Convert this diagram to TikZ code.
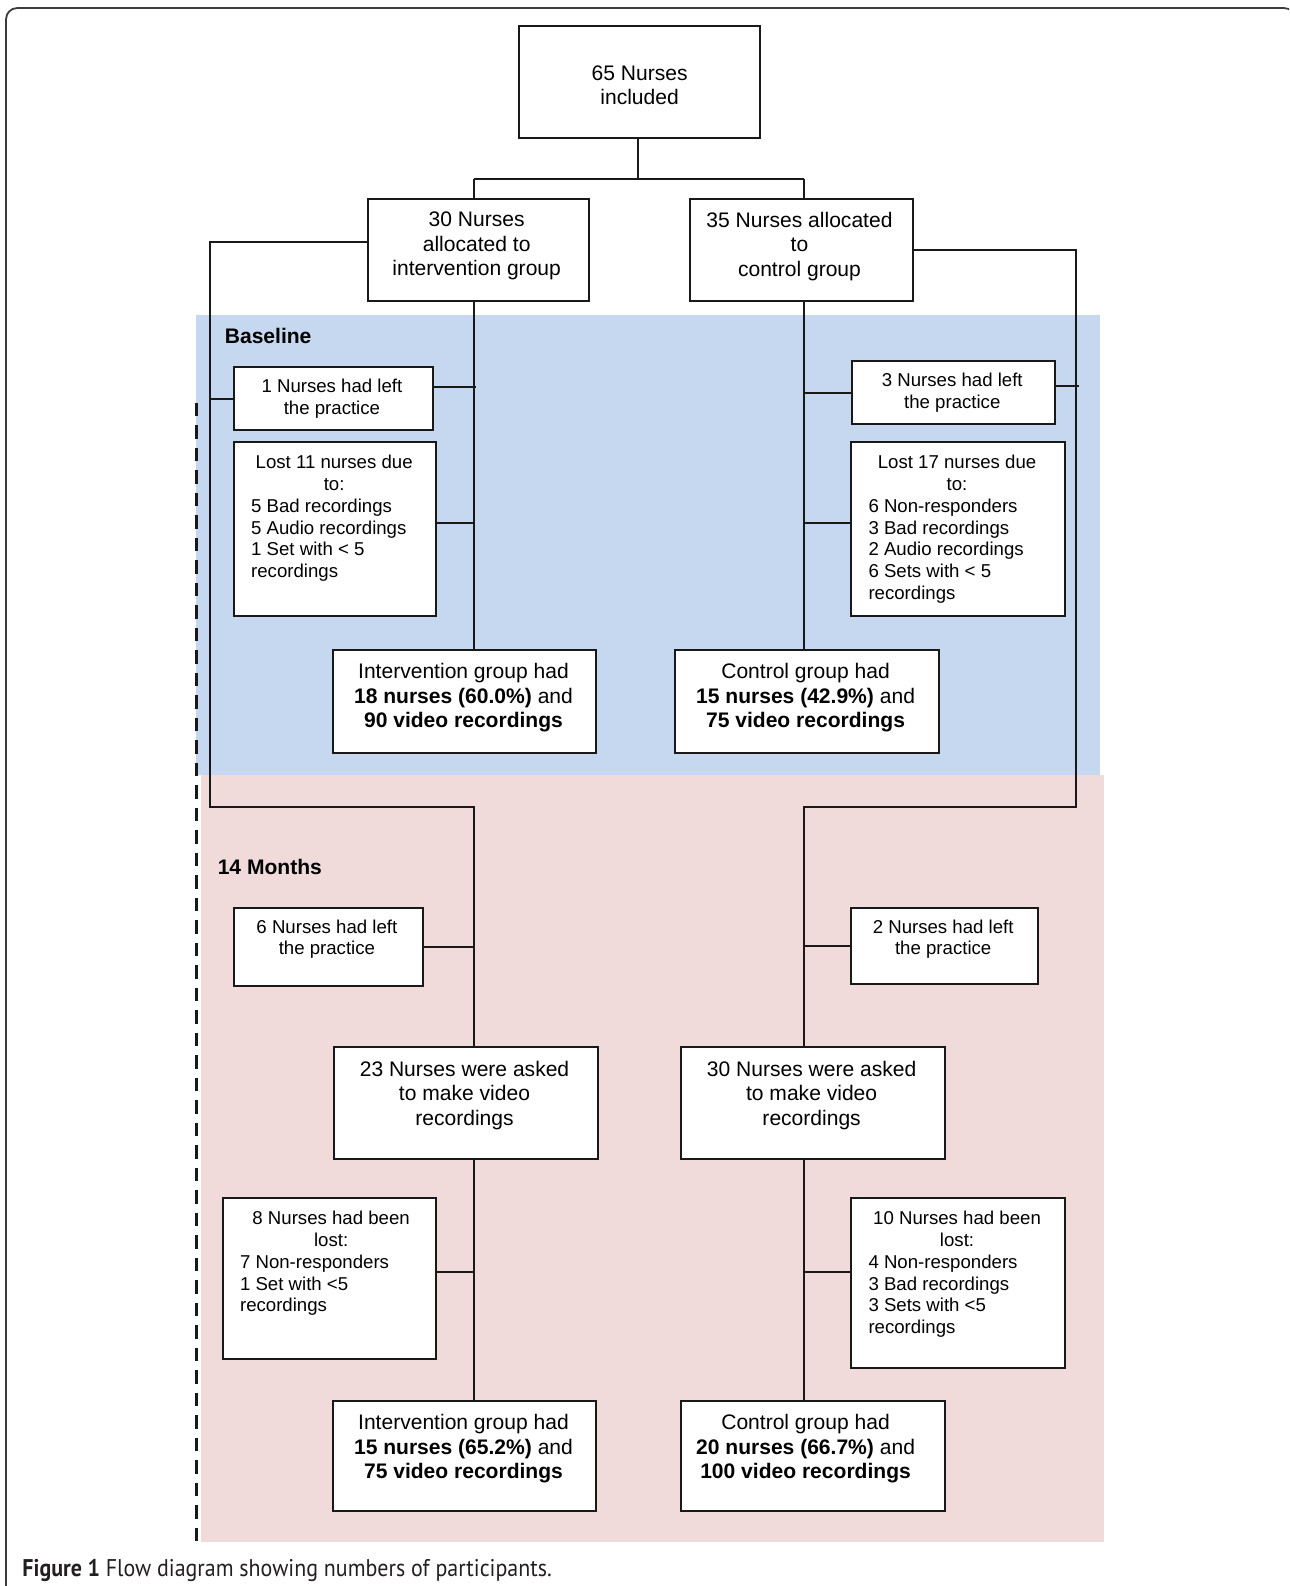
\documentclass[tikz,border=0pt]{standalone}
\usepackage{fontspec}
\setmainfont{Liberation Sans}
\newfontfamily\capfont{PT Sans}
\usepackage{graphicx}
\definecolor{bluebg}{RGB}{197,216,240}
\definecolor{pinkbg}{RGB}{241,218,218}
\definecolor{lineblack}{RGB}{25,25,25}
\definecolor{framecol}{RGB}{60,60,60}
\begin{document}
\begin{tikzpicture}[x=1pt,y=-1pt,scale=1.012,every node/.append style={transform shape},
  box/.style={draw=lineblack, line width=2pt, fill=white, rectangle, inner sep=0pt, anchor=north west},
  conn/.style={draw=lineblack, line width=2pt},
  big/.style={font=\fontsize{20.8}{24}\selectfont, align=center, inner sep=0pt, anchor=north, text=black},
  small/.style={font=\fontsize{18.4}{21.6}\selectfont, align=center, inner sep=0pt, anchor=north, text=black},
  smallleft/.style={font=\fontsize{18.4}{21.6}\selectfont, align=left, inner sep=0pt, anchor=north west, text=black},
  phase/.style={font=\fontsize{20.8}{24}\selectfont\bfseries, inner sep=0pt, anchor=north west, text=black},
]
\useasboundingbox (0,0) rectangle (1273.72,1567.19);
\clip (0,0) rectangle (1273.72,1567.19);
% frame
\draw[line width=1.8pt, framecol, rounded corners=11pt] (6,8) rectangle (1280,1660);
% phase backgrounds
\fill[bluebg] (194,311) rectangle (1087,766);
\fill[pinkbg] (199,766) rectangle (1091,1524);
% dashed line
\coordinate (d1) at (194,398);
\coordinate (d2) at (194,1528);
\draw[line width=3.6pt, lineblack, dash pattern=on 13.5pt off 9pt] (d1) -- (d2);
% boxes
\node[box, minimum width=238, minimum height=110] (A) at (512,25) {};
\node[box, minimum width=218, minimum height=100] (B) at (363,196) {};
\node[box, minimum width=220, minimum height=100] (C) at (681,196) {};
\node[box, minimum width=197, minimum height=62] (n1) at (230,362) {};
\node[box, minimum width=200, minimum height=172] (l11) at (230,436) {};
\node[box, minimum width=200, minimum height=62] (n3) at (841,356) {};
\node[box, minimum width=211, minimum height=172] (l17) at (840,436) {};
\node[box, minimum width=260, minimum height=102] (IB) at (328,641) {};
\node[box, minimum width=261, minimum height=102] (CB) at (666,641) {};
\node[box, minimum width=187, minimum height=77] (n6) at (230,896) {};
\node[box, minimum width=185, minimum height=75] (n2) at (840,896) {};
\node[box, minimum width=261, minimum height=110] (I23) at (329,1034) {};
\node[box, minimum width=261, minimum height=110] (I30) at (672,1034) {};
\node[box, minimum width=211, minimum height=159] (l8) at (219,1183) {};
\node[box, minimum width=211, minimum height=168] (l10) at (840,1183) {};
\node[box, minimum width=260, minimum height=109] (IB2) at (328,1383) {};
\node[box, minimum width=261, minimum height=109] (CB2) at (672,1383) {};
% texts
\node[big] (tA) at (632,64.5) {65 Nurses\\included};
\node[big] (tB) at (471,209.5) {30 Nurses\\allocated to\\intervention group};
\node[big] (tC) at (790,209.5) {35 Nurses allocated\\to\\control group};
\node[phase] (tBase) at (222,324.5) {Baseline};
\node[small] (tn1) at (328,374.4) {1 Nurses had left\\the practice};
\node[smallleft] (tl11) at (248,449.4) {\makebox[164pt][c]{Lost 11 nurses due}\\\makebox[164pt][c]{to:}\\5 Bad recordings\\5 Audio recordings\\1 Set with {\char`<} 5\\recordings};
\node[small] (tn3) at (941,368.4) {3 Nurses had left\\the practice};
\node[smallleft] (tl17) at (858,449.4) {\makebox[175pt][c]{Lost 17 nurses due}\\\makebox[175pt][c]{to:}\\6 Non-responders\\3 Bad recordings\\2 Audio recordings\\6 Sets with {\char`<} 5\\recordings};
\node[big] (tIB) at (458,655.5) {Intervention group had\\\textbf{18 nurses (60.0\%)} and\\\textbf{90 video recordings}};
\node[big] (tCB) at (796,655.5) {Control group had\\\textbf{15 nurses (42.9\%)} and\\\textbf{75 video recordings}};
\node[phase] (t14) at (215,848.5) {14 Months};
\node[small] (tn6) at (323,908.4) {6 Nurses had left\\the practice};
\node[small] (tn2) at (932,908.4) {2 Nurses had left\\the practice};
\node[big] (tI23) at (459,1048.5) {23 Nurses were asked\\to make video\\recordings};
\node[big] (tI30) at (802,1048.5) {30 Nurses were asked\\to make video\\recordings};
\node[smallleft] (tl8) at (237,1196.4) {\makebox[180pt][c]{8 Nurses had been}\\\makebox[180pt][c]{lost:}\\7 Non-responders\\1 Set with {\char`<}5\\recordings};
\node[smallleft] (tl10) at (858,1196.4) {\makebox[175pt][c]{10 Nurses had been}\\\makebox[175pt][c]{lost:}\\4 Non-responders\\3 Bad recordings\\3 Sets with {\char`<}5\\recordings};
\node[big] (tIB2) at (458,1397.5) {Intervention group had\\\textbf{15 nurses (65.2\%)} and\\\textbf{75 video recordings}};
\node[big] (tCB2) at (796,1397.5) {Control group had\\\textbf{20 nurses (66.7\%)} and\\\textbf{100 video recordings}};
% connectors
\coordinate (xL) at (468,0);
\coordinate (xR) at (794,0);
\coordinate (xLL) at (207,0);
\coordinate (xRR) at (1063,0);
\coordinate (yJ) at (0,797);
\draw[conn] ([xshift=-2pt]A.south) -- ++(0,40) coordinate (split);
\draw[conn] (split -| xL) -- (split -| xR);
\draw[conn] (split -| xL) -- (B.north -| xL);
\draw[conn] (split -| xR) -- (C.north -| xR);
\draw[conn] ([yshift=8pt]B.west) -| (xLL |- yJ) -- (xL |- yJ) -- (I23.north -| xL);
\draw[conn] (n1.west) -- (n1.west -| xLL);
\draw[conn] (B.south -| xL) -- (IB.north -| xL);
\draw[conn] ([yshift=12pt]n1.east) -- ([yshift=12pt,xshift=2pt]n1.east -| xL);
\draw[conn] ([yshift=6pt]l11.east) -- ([yshift=6pt]l11.east -| xL);
\draw[conn] (C.east) -| (xRR |- yJ) -- (xR |- yJ) -- (I30.north -| xR);
\draw[conn] (C.south -| xR) -- (CB.north -| xR);
\draw[conn] ([yshift=7pt]n3.east) -- ([yshift=7pt,xshift=3pt]n3.east -| xRR);
\draw[conn] (n3.west) -- (n3.west -| xR);
\draw[conn] ([yshift=6pt]l17.west) -- ([yshift=6pt]l17.west -| xR);
\draw[conn] (n6.east) -- (n6.east -| xL);
\draw[conn] (n2.west) -- (n2.west -| xR);
\draw[conn] (I23.south -| xL) -- (IB2.north -| xL);
\draw[conn] (I30.south -| xR) -- (CB2.north -| xR);
\draw[conn] ([yshift=7pt]l8.east) -- ([yshift=7pt]l8.east -| xL);
\draw[conn] ([yshift=11pt]l10.west) -- ([yshift=11pt]l10.west -| xR);
% caption
\node[anchor=base west, inner sep=0pt, text={rgb,255:red,35;green,31;blue,32}] (cap) at (22,1558) {\scalebox{1}[1.1]{\resizebox{523pt}{!}{\capfont\fontsize{19.5}{22}\selectfont\textbf{Figure 1} Flow diagram showing numbers of participants.}}};
\end{tikzpicture}
\end{document}
